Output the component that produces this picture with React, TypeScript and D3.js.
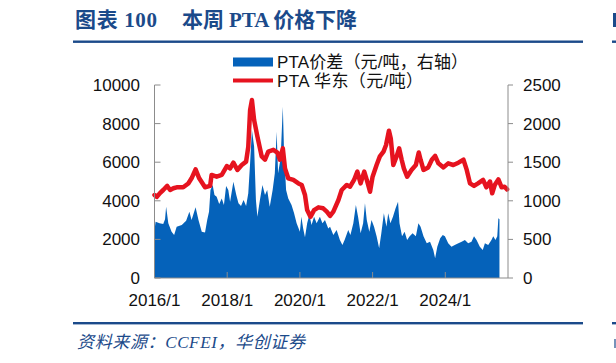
import * as d3 from 'd3'

// PTA 华东 price (元/吨, left axis): time as decimal year
const priceT = [2016.0, 2016.06, 2016.15, 2016.24, 2016.35, 2016.43, 2016.52, 2016.61, 2016.79, 2016.93, 2017.02, 2017.13, 2017.23, 2017.39, 2017.53, 2017.57, 2017.71, 2017.85, 2017.99, 2018.08, 2018.17, 2018.28, 2018.4, 2018.52, 2018.58, 2018.63, 2018.68, 2018.74, 2018.83, 2018.95, 2019.04, 2019.13, 2019.27, 2019.38, 2019.45, 2019.53, 2019.59, 2019.68, 2019.82, 2019.96, 2020.05, 2020.14, 2020.2, 2020.29, 2020.39, 2020.51, 2020.64, 2020.74, 2020.83, 2020.92, 2021.06, 2021.15, 2021.29, 2021.38, 2021.49, 2021.58, 2021.67, 2021.77, 2021.84, 2021.93, 2022.0, 2022.11, 2022.2, 2022.3, 2022.37, 2022.45, 2022.5, 2022.57, 2022.66, 2022.73, 2022.8, 2022.86, 2022.95, 2023.07, 2023.19, 2023.27, 2023.32, 2023.4, 2023.53, 2023.63, 2023.72, 2023.81, 2023.95, 2024.08, 2024.22, 2024.36, 2024.5, 2024.59, 2024.68, 2024.79, 2024.9, 2025.04, 2025.13, 2025.23, 2025.29, 2025.36, 2025.46, 2025.55, 2025.63, 2025.7]
const priceV = [4300, 4200, 4400, 4560, 4770, 4560, 4650, 4700, 4700, 4900, 5165, 5630, 5165, 4700, 4770, 5340, 5250, 5340, 5800, 5680, 5975, 5600, 5855, 6030, 6800, 8700, 9220, 8190, 7340, 6300, 6130, 6550, 6640, 6500, 6130, 6720, 5680, 5165, 5080, 4900, 4820, 4300, 3520, 3170, 3520, 3660, 3610, 3440, 3220, 3440, 4040, 4560, 4820, 4730, 5080, 5510, 4900, 5510, 5080, 4470, 5250, 5855, 6300, 6550, 6890, 7630, 7230, 5855, 6300, 6720, 6130, 5680, 5250, 5600, 5855, 6500, 6130, 5600, 5730, 6130, 6330, 5940, 5730, 5940, 5855, 5975, 6130, 5600, 4900, 4770, 4900, 5080, 4700, 5000, 4390, 4820, 5110, 4700, 4730, 4590]

// PTA 价差 (元/吨, right axis)
const spreadT = [2016.0, 2016.03, 2016.14, 2016.24, 2016.29, 2016.32, 2016.38, 2016.47, 2016.54, 2016.61, 2016.75, 2016.87, 2016.96, 2017.02, 2017.13, 2017.21, 2017.3, 2017.39, 2017.45, 2017.5, 2017.54, 2017.6, 2017.65, 2017.71, 2017.78, 2017.85, 2017.91, 2017.97, 2018.03, 2018.08, 2018.17, 2018.25, 2018.31, 2018.38, 2018.45, 2018.52, 2018.58, 2018.63, 2018.68, 2018.74, 2018.79, 2018.83, 2018.9, 2018.97, 2019.04, 2019.1, 2019.17, 2019.25, 2019.31, 2019.36, 2019.4, 2019.47, 2019.53, 2019.56, 2019.62, 2019.68, 2019.77, 2019.84, 2019.91, 2020.0, 2020.04, 2020.09, 2020.14, 2020.2, 2020.26, 2020.32, 2020.39, 2020.46, 2020.55, 2020.62, 2020.69, 2020.78, 2020.83, 2020.92, 2021.01, 2021.1, 2021.17, 2021.23, 2021.33, 2021.39, 2021.47, 2021.54, 2021.6, 2021.67, 2021.74, 2021.79, 2021.84, 2021.91, 2021.97, 2022.04, 2022.11, 2022.18, 2022.24, 2022.31, 2022.38, 2022.43, 2022.49, 2022.56, 2022.63, 2022.7, 2022.74, 2022.81, 2022.88, 2022.95, 2023.02, 2023.1, 2023.19, 2023.26, 2023.32, 2023.4, 2023.49, 2023.58, 2023.67, 2023.72, 2023.78, 2023.86, 2023.93, 2023.99, 2024.08, 2024.17, 2024.26, 2024.36, 2024.45, 2024.54, 2024.63, 2024.72, 2024.79, 2024.86, 2024.95, 2025.03, 2025.09, 2025.18, 2025.27, 2025.32, 2025.38, 2025.43, 2025.46, 2025.49]
const spreadV = [622, 729, 708, 700, 760, 924, 708, 600, 557, 665, 686, 743, 859, 750, 915, 750, 600, 590, 750, 859, 1140, 1205, 1075, 1053, 958, 1030, 945, 1193, 1140, 988, 1248, 1075, 967, 933, 1010, 933, 1097, 1485, 1917, 1703, 1010, 795, 1010, 1205, 1075, 1140, 924, 1140, 1356, 1895, 1356, 1550, 2219, 1703, 1140, 1030, 945, 838, 708, 600, 795, 640, 527, 708, 820, 686, 795, 708, 795, 708, 750, 640, 665, 557, 622, 492, 428, 492, 622, 557, 708, 945, 795, 580, 708, 967, 750, 600, 750, 665, 540, 384, 580, 838, 665, 838, 708, 795, 900, 989, 708, 540, 600, 492, 540, 580, 540, 708, 665, 540, 450, 470, 363, 255, 406, 514, 557, 540, 450, 406, 428, 450, 470, 492, 450, 470, 540, 492, 406, 363, 450, 428, 492, 540, 492, 540, 773, 760]

const leftTicks = [0, 2000, 4000, 6000, 8000, 10000]
const rightTicks = [0, 500, 1000, 1500, 2000, 2500]
const xTicks = [2016, 2018, 2020, 2022, 2024]

const NAVY = '#1b4a8a'
const BLUE = '#0562ba'
const RED = '#e6131f'
const AXIS = '#8c8c8c'
const SANS = '"Liberation Sans", Arial, "Noto Sans CJK SC", sans-serif'
const SERIF = '"Liberation Serif", "Noto Sans CJK SC", serif'

export default function App() {
  const W = 616
  const H = 363
  const x = d3.scaleLinear().domain([2016, 2025.725]).range([154.5, 508])
  const yL = d3.scaleLinear().domain([0, 10000]).range([278, 85])
  const yR = d3.scaleLinear().domain([0, 2500]).range([278, 85])

  const spread = spreadT.map((t, i) => ({ t, v: spreadV[i] }))
  const price = priceT.map((t, i) => ({ t, v: priceV[i] }))

  const area = d3.area<{ t: number; v: number }>().x((d) => x(d.t)).y0(yR(0)).y1((d) => yR(d.v))
  const line = d3.line<{ t: number; v: number }>().x((d) => x(d.t)).y((d) => yL(d.v))

  return (
    <div style={{ position: 'absolute', left: 0, top: 0 }}>
      <svg width={W} height={H} style={{ display: 'block', background: '#fff' }}>
        {/* title */}
        <text x={75} y={27} fill={NAVY} fontSize={21} fontWeight={700} fontFamily={SERIF} textLength={82} lengthAdjust="spacing">图表 100</text>
        <text x={182} y={27} fill={NAVY} fontSize={21} fontWeight={700} fontFamily={SERIF} textLength={175} lengthAdjust="spacing">本周 PTA 价格下降</text>
        {/* clipped edge of the next panel */}
        <rect x={613} y={13} width={3} height={14} fill={NAVY} />
        <rect x={73} y={40.5} width={510} height={2.4} fill={NAVY} />
        <rect x={612} y={40.5} width={4} height={2.4} fill={NAVY} />

        {/* legend */}
        <rect x={233} y={57.5} width={40} height={9} fill={BLUE} />
        <text x={277} y={68} fontSize={17} fontFamily={SANS} fill="#111" textLength={191} lengthAdjust="spacing">PTA价差（元/吨，右轴）</text>
        <line x1={233} x2={273} y1={80.5} y2={80.5} stroke={RED} strokeWidth={4} />
        <text x={277} y={86.5} fontSize={17} fontFamily={SANS} fill="#111" textLength={146} lengthAdjust="spacing">PTA 华东（元/吨）</text>

        {/* series */}
        <path d={area(spread) ?? ''} fill={BLUE} />
        <path d={line(price) ?? ''} fill="none" stroke={RED} strokeWidth={4.5} strokeLinejoin="round" strokeLinecap="round" />

        {/* axes */}
        <line x1={154.5} x2={154.5} y1={85} y2={278} stroke={AXIS} />
        <line x1={508} x2={508} y1={85} y2={278} stroke={AXIS} />
        <line x1={154.5} x2={508} y1={278} y2={278} stroke={AXIS} />
        {leftTicks.map((v) => (
          <g key={'l' + v}>
            <line x1={154.5} x2={160.5} y1={yL(v)} y2={yL(v)} stroke={AXIS} />
            <text x={140} y={yL(v)} dy="0.35em" textAnchor="end" fontSize={17} fontFamily={SANS} fill="#111">{v}</text>
          </g>
        ))}
        {rightTicks.map((v) => (
          <g key={'r' + v}>
            <line x1={508} x2={513} y1={yR(v)} y2={yR(v)} stroke={AXIS} />
            <text x={523} y={yR(v)} dy="0.35em" fontSize={17} fontFamily={SANS} fill="#111">{v}</text>
          </g>
        ))}
        {xTicks.map((t) => (
          <g key={'x' + t}>
            <line x1={x(t)} x2={x(t)} y1={278} y2={272} stroke={AXIS} />
            <text x={x(t)} y={306} textAnchor="middle" fontSize={17} fontFamily={SANS} fill="#111">{t}/1</text>
          </g>
        ))}

        {/* footer */}
        <rect x={73} y={322} width={510} height={2.4} fill={NAVY} />
        <rect x={612} y={322} width={4} height={2.4} fill={NAVY} />
        <text x={77} y={348} fill={NAVY} fontSize={17} fontStyle="italic" fontFamily={SERIF} textLength={228} lengthAdjust="spacing">资料来源：CCFEI，华创证券</text>
        <rect x={614} y={339} width={2} height={9} fill={NAVY} opacity={0.6} />
      </svg>
    </div>
  )
}
